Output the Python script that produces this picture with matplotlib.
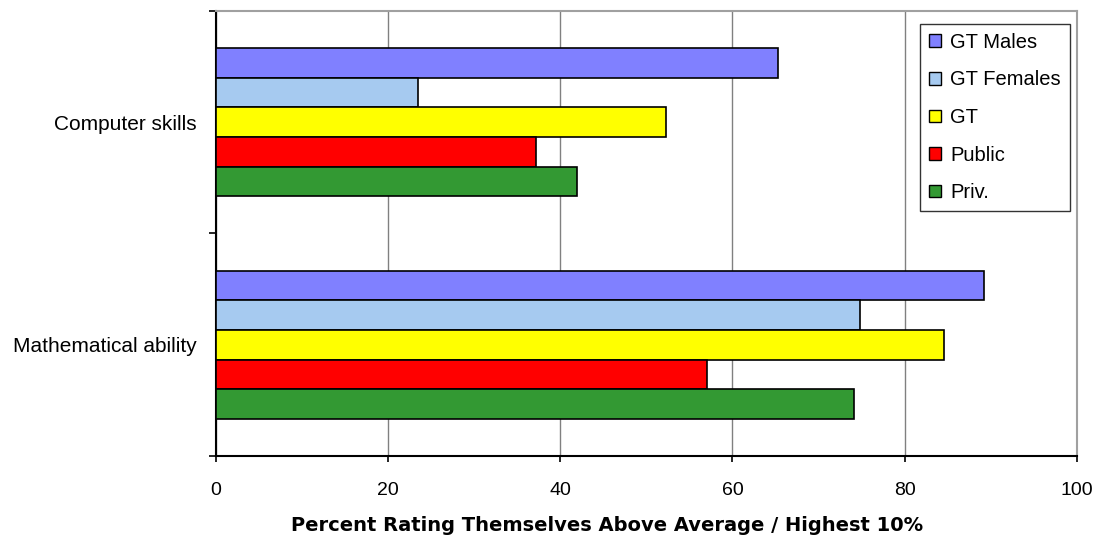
import numpy as np
import matplotlib
matplotlib.use("Agg")
import matplotlib.pyplot as plt
from matplotlib.patches import Patch

plt.rcParams['font.family'] = ['Liberation Sans', 'DejaVu Sans']

categories = ["Computer skills", "Mathematical ability"]
series = ["GT Males", "GT Females", "GT", "Public", "Priv."]
colors = ["#8080ff", "#a6caf0", "#ffff00", "#ff0000", "#339933"]
values = {
    "GT Males": [65.3, 89.2],
    "GT Females": [23.5, 74.8],
    "GT": [52.3, 84.6],
    "Public": [37.2, 57.1],
    "Priv.": [42.0, 74.1],
}
x_ticks = [0, 20, 40, 60, 80, 100]

fig = plt.figure(figsize=(11.01, 5.38), dpi=100)
ax = fig.add_axes([0.196, 0.1524, 0.782, 0.8272])

n = len(series)
bar_h = 0.6667 / n
# categories top to bottom: Computer skills at y=1, Math at y=0
cat_pos = np.array([1.0, 0.0])
for i, s in enumerate(series):
    y = cat_pos + 0.6667 / 2 - bar_h * (i + 0.5)
    ax.barh(y, values[s], height=bar_h, color=colors[i], edgecolor="black",
            linewidth=1.2, zorder=3)

ax.set_xlim(0, 100)
ax.set_ylim(-0.5, 1.5)
ax.set_xticks(x_ticks)
ax.set_xticklabels([str(t) for t in x_ticks], fontsize=14)
ax.grid(axis="x", color="#808080", linewidth=1, zorder=0)

# category boundary ticks on y axis, labels centered without ticks
ax.set_yticks([-0.5, 0.5, 1.5])
ax.set_yticklabels([])
ax.set_yticks(cat_pos, minor=True)
ax.set_yticklabels(categories, minor=True, fontsize=15)
ax.tick_params(axis="y", which="minor", length=0, pad=14)
ax.tick_params(axis="y", which="major", length=5, width=1.2)
ax.tick_params(axis="x", length=4.5, width=1.2, pad=14)

for side in ["top", "right"]:
    ax.spines[side].set_color("#a0a0a0")
    ax.spines[side].set_linewidth(1.5)
for side in ["left", "bottom"]:
    ax.spines[side].set_color("black")
    ax.spines[side].set_linewidth(1.5)

ax.set_xlabel("Percent Rating Themselves Above Average / Highest 10%",
              fontsize=14, fontweight="bold", family="DejaVu Sans", labelpad=9)
ax.xaxis.set_label_coords(0.454, -0.135)

handles = [Patch(facecolor=c, edgecolor="black", label=s) for s, c in zip(series, colors)]
leg = ax.legend(handles=handles, loc="upper right", bbox_to_anchor=(0.992, 0.971),
                fontsize=14.5, frameon=True, fancybox=False, edgecolor="black",
                handlelength=0.6, handleheight=0.6, handletextpad=0.45,
                labelspacing=0.92, borderpad=0.45, borderaxespad=0)
leg.get_frame().set_linewidth(1.0)
leg.set_zorder(5)

fig.savefig("out.png", dpi=100)
